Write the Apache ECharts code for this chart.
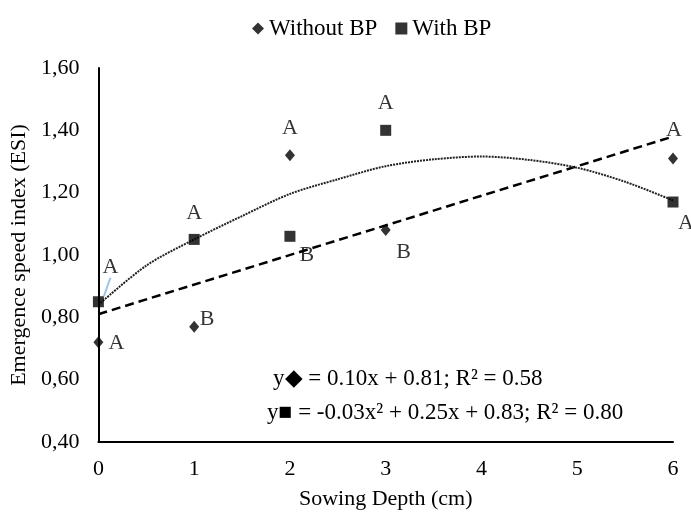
<!DOCTYPE html>
<html>
<head>
<meta charset="utf-8">
<script src="https://cdn.jsdelivr.net/npm/echarts@6/dist/echarts.min.js"></script>
<style>
  html, body { margin: 0; padding: 0; background: #fff; }
  #chart { width: 691px; height: 515px; }
</style>
</head>
<body>
<div id="chart"></div>
<script>
// 数据
const depths = [0, 1, 2, 3, 6]
const withoutBP = [0.72, 0.77, 1.32, 1.08, 1.31]
const withBP = [0.85, 1.05, 1.06, 1.40, 1.17]
const withoutLetters = ['A', 'B', 'A', 'B', 'A']
const withLetters = ['A', 'A', 'B', 'A', 'A']
// trend lines
const linearX = [0, 6]
const linearY = [0.81, 1.38]
const curveX = [0, 0.5, 1, 1.5, 2, 2.5, 3, 3.5, 4, 4.5, 5, 5.5, 6]
const curveY = [0.84, 0.966, 1.05, 1.125, 1.196, 1.243, 1.285, 1.307, 1.316, 1.305, 1.28, 1.235, 1.175]
const eqLinear = 'y◆ = 0.10x + 0.81; R² = 0.58'
const eqQuad = 'y■ = -0.03x² + 0.25x + 0.83; R² = 0.80'

const font = 'Liberation Serif, Times New Roman, serif'
const fs = 22

// 字母相对点中心的偏移
const withoutLabelOff = [[18, 2], [13, -6], [0, -26], [18, 23], [1, -27]]
const withLabelOff = [[0, 0], [0, -26], [17, 19], [0, -27], [13, 21]]

const pairs = (xs, ys) => xs.map((x, i) => [x, ys[i]])

const scatterData = (ys, letters, offs, half) => ys.map((y, i) => ({
    value: [depths[i], y],
    label: {
        show: true,
        formatter: letters[i],
        position: [half + offs[i][0], half + offs[i][1]],
        align: 'center',
        verticalAlign: 'middle',
        color: '#000',
        fontFamily: font,
        fontSize: fs
    }
}))

const chart = echarts.init(document.getElementById('chart'))

const withData = scatterData(withBP, withLetters, withLabelOff, 5.5)
withData[0].labelLine = { show: true, lineStyle: { color: '#9dc3e6', width: 2 } }

chart.setOption({
    animation: false,
    textStyle: { fontFamily: font },
    legend: {
        top: 12,
        left: 247,
        itemGap: 18,
        itemWidth: 12,
        itemHeight: 12,
        textStyle: { fontFamily: font, fontSize: 23, color: '#000' },
        data: [
            { name: 'Without BP', icon: 'diamond' },
            { name: 'With BP', icon: 'rect' }
        ]
    },
    grid: { left: 97, right: 18, top: 68, bottom: 70 },
    xAxis: {
        type: 'value',
        min: 0,
        max: 6,
        interval: 1,
        name: 'Sowing Depth (cm)',
        nameLocation: 'middle',
        nameGap: 46,
        nameTextStyle: { fontFamily: font, fontSize: fs, color: '#000' },
        axisLine: { lineStyle: { color: '#000', width: 2 } },
        axisTick: { show: false },
        splitLine: { show: false },
        axisLabel: { fontFamily: font, fontSize: fs, color: '#000', margin: 16 }
    },
    yAxis: {
        type: 'value',
        min: 0.4,
        max: 1.6,
        interval: 0.2,
        name: 'Emergence speed index (ESI)',
        nameLocation: 'middle',
        nameGap: 63,
        nameTextStyle: { fontFamily: font, fontSize: fs, color: '#000' },
        axisLine: { show: true, lineStyle: { color: '#000', width: 2 } },
        axisTick: { show: false },
        splitLine: { show: false },
        axisLabel: {
            fontFamily: font,
            fontSize: fs,
            color: '#000',
            margin: 19,
            formatter: v => v.toFixed(2).replace('.', ',')
        }
    },
    graphic: [
        {
            type: 'text',
            left: 273,
            top: 367,
            style: { text: eqLinear, font: '23px ' + font, fill: '#000' }
        },
        {
            type: 'text',
            left: 267,
            top: 401,
            style: { text: eqQuad, font: '23px ' + font, fill: '#000' }
        }
    ],
    series: [
        {
            name: 'trend linear',
            type: 'line',
            data: pairs(linearX, linearY),
            symbol: 'none',
            silent: true,
            lineStyle: { color: '#000', width: 2.5, type: [9, 5] },
            z: 1
        },
        {
            name: 'trend quad',
            type: 'line',
            data: pairs(curveX, curveY),
            smooth: 0.3,
            symbol: 'none',
            silent: true,
            lineStyle: { color: '#222', width: 2, type: [2, 1] },
            z: 1
        },
        {
            name: 'Without BP',
            type: 'scatter',
            symbol: 'diamond',
            symbolSize: [10, 12],
            itemStyle: { color: '#000' },
            data: scatterData(withoutBP, withoutLetters, withoutLabelOff, 5),
            z: 3
        },
        {
            name: 'With BP',
            type: 'scatter',
            symbol: 'rect',
            symbolSize: 11,
            itemStyle: { color: '#000' },
            data: withData,
            labelLayout: p => (p.dataIndex === 0 ? { dx: 12, dy: -35 } : {}),
            z: 3
        }
    ]
})
</script>
</body>
</html>
